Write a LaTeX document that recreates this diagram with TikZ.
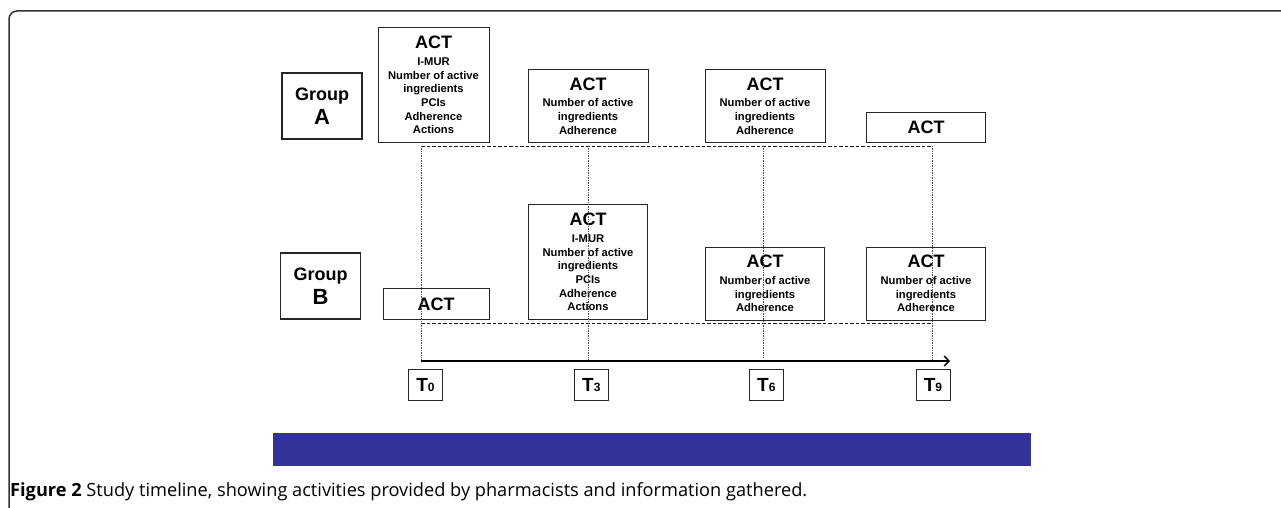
\documentclass[tikz,border=0pt]{standalone}
\usepackage{fontspec}
\setmainfont{Liberation Sans}
\newfontfamily\capfont{Open Sans}
\usepackage{tikz}
\usetikzlibrary{arrows.meta}

\definecolor{barblue}{RGB}{51,51,153}
\newcommand{\bigtxt}{\fontsize{18}{20}\selectfont}
\newcommand{\subtxt}{\fontsize{12}{12}\selectfont}

\begin{document}
\begin{tikzpicture}[x=1pt,y=-1pt,
  box/.style={draw=black!85,line width=0.8pt,inner sep=0pt,align=center,font=\bfseries\fontsize{11.2}{13.7}\selectfont},
  grp/.style={draw=black!85,line width=1.6pt,inner sep=0pt,align=center,minimum width=80pt,minimum height=66pt,font=\bfseries\fontsize{18}{24}\selectfont},
  tbox/.style={draw=black!85,line width=0.8pt,inner sep=0pt,minimum width=34pt,minimum height=31pt,font=\bfseries\fontsize{19}{19}\selectfont},
  grid/.style={black!70,line width=0.7pt,dash pattern=on 1pt off 0.7pt},
  split/.style={black!90,line width=0.7pt,dash pattern=on 3.5pt off 2pt}]
\useasboundingbox (0,0) rectangle (1281,508);
\draw[black!80,line width=1.5pt,rounded corners=8pt] (9,508) -- (9,11) -- (1281,11);

% group A
\node[grp] (grpA) at (322,106) {Group\\{\fontsize{22}{24}\selectfont A}};
\node[box,minimum width=111pt,minimum height=115pt] (a0) at (433.5,85) {{\bigtxt ACT}\\[3pt]I-MUR\\Number of active\\ingredients\\PCIs\\Adherence\\Actions};
\node[box,minimum width=120pt,minimum height=73pt] (a3) at (588,106) {{\bigtxt ACT}\\[3pt]Number of active\\ingredients\\Adherence};
\node[box,minimum width=120pt,minimum height=73pt] (a6) at (765,106) {{\bigtxt ACT}\\[3pt]Number of active\\ingredients\\Adherence};
\node[box,minimum width=119pt,minimum height=30.5pt] (a9) at (926,127.3) {\bigtxt ACT};

% group B
\node[grp] (grpB) at (320.5,286) {Group\\{\fontsize{22}{24}\selectfont B}};
\node[box,minimum width=106pt,minimum height=30.5pt] (b0) at (436,304) {\bigtxt ACT};
\node[box,minimum width=119.5pt,minimum height=114.5pt] (b3) at (588,262) {{\bigtxt ACT}\\[3pt]I-MUR\\Number of active\\ingredients\\PCIs\\Adherence\\Actions};
\node[box,minimum width=119pt,minimum height=73pt] (b6) at (765,283.7) {{\bigtxt ACT}\\[3pt]Number of active\\ingredients\\Adherence};
\node[box,minimum width=119pt,minimum height=73pt] (b9) at (926,283.7) {{\bigtxt ACT}\\[3pt]Number of active\\ingredients\\Adherence};

% time points
\node[tbox] (t0) at (425.5,385) {T{\subtxt 0}};
\node[tbox] (t3) at (591.3,385) {T{\subtxt 3}};
\node[tbox] (t6) at (766.3,385) {T{\subtxt 6}};
\node[tbox] (t9) at (933,385) {T{\subtxt 9}};

\coordinate (up0) at (421,146);
\coordinate (up3) at (588,146);
\coordinate (up6) at (763,146);
\coordinate (up9) at (932,146);
\coordinate (low0) at (421,323);
\coordinate (low9) at (932,323);
\coordinate (ax0) at (421,361);
\coordinate (ax3) at (588,361);
\coordinate (ax6) at (763,358);
\coordinate (ax9) at (932,361);
\coordinate (axend) at (950,361);

\draw[split] (up0) -- (up9);
\draw[split] (low0) -- (low9);
\draw[grid] (up0) -- (ax0);
\draw[grid] (up3) -- (ax3);
\draw[grid] (up6) -- (ax6);
\draw[grid] (up9) -- (ax9);
\draw[->,>={Straight Barb[length=5pt,width=10pt,line width=1.3pt]},line width=1.3pt] (ax0) -- (axend);

\node[fill=barblue,inner sep=0pt,minimum width=758pt,minimum height=33pt] (bar) at (652,449.5) {};

\node[anchor=base west,inner sep=0pt] (cap) at (10,496.5) {\capfont\fontsize{18.2}{19}\selectfont\textbf{Figure 2} Study timeline, showing activities provided by pharmacists and information gathered.};
\end{tikzpicture}
\end{document}
